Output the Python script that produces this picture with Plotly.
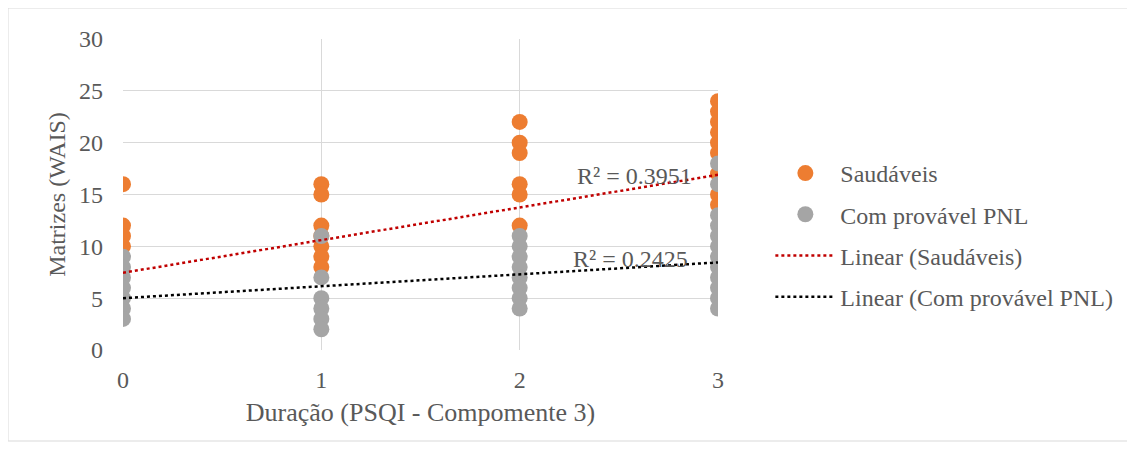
import plotly.graph_objects as go

# Data
saud_x = [0, 0, 0, 0,
          1, 1, 1, 1, 1, 1, 1,
          2, 2, 2, 2, 2, 2,
          3, 3, 3, 3, 3, 3, 3, 3, 3]
saud_y = [16, 12, 11, 10,
          16, 15, 12, 11, 10, 9, 8,
          22, 20, 19, 16, 15, 12,
          24, 23, 22, 21, 20, 19, 17, 15, 14]

pnl_x = [0, 0, 0, 0, 0, 0, 0,
         1, 1, 1, 1, 1, 1,
         2, 2, 2, 2, 2, 2, 2, 2,
         3, 3, 3, 3, 3, 3, 3, 3, 3, 3, 3, 3]
pnl_y = [9, 8, 7, 6, 5, 4, 3,
         11, 7, 5, 4, 3, 2,
         11, 10, 9, 8, 7, 6, 5, 4,
         18, 16, 13, 12, 11, 10, 9, 8, 7, 6, 5, 4]

# Trendline coefficients
trend_x = [0, 3]
saud_intercept, saud_slope = 7.45, 3.15
pnl_intercept, pnl_slope = 5.0, 1.15
saud_r2 = "R² = 0.3951"
pnl_r2 = "R² = 0.2425"

x_ticks = [0, 1, 2, 3]
y_ticks = [0, 5, 10, 15, 20, 25, 30]

FONT = "Liberation Serif"
TXT = "#595959"
FS = 24

fig = go.Figure()
fig.add_trace(go.Scatter(x=saud_x, y=saud_y, mode="markers", name="Saudáveis",
                         marker=dict(color="#ED7D31", size=16), legendgroup="a"))
fig.add_trace(go.Scatter(x=pnl_x, y=pnl_y, mode="markers", name="Com provável PNL",
                         marker=dict(color="#A5A5A5", size=16), legendgroup="b"))
fig.add_trace(go.Scatter(x=trend_x, y=[saud_intercept + saud_slope * v for v in trend_x],
                         mode="lines", name="Linear (Saudáveis)",
                         line=dict(color="#C00000", width=2.5, dash="dot"), legendgroup="c"))
fig.add_trace(go.Scatter(x=trend_x, y=[pnl_intercept + pnl_slope * v for v in trend_x],
                         mode="lines", name="Linear (Com provável PNL)",
                         line=dict(color="#000000", width=2.5, dash="dot"), legendgroup="d"))

# page body has an 8px margin: compensate
OFF = 8
W, H = 1135 - OFF, 454 - OFF
L, T = 123 - OFF, 39 - OFF
R = 1135 - 718
B = 454 - 350
pw, ph = W - L - R, H - T - B

fig.add_annotation(x=2.58, y=16.8, xref="x", yref="y", text=saud_r2, showarrow=False,
                   font=dict(family=FONT, size=FS, color=TXT), xanchor="center", yanchor="middle")
fig.add_annotation(x=2.56, y=8.75, xref="x", yref="y", text=pnl_r2, showarrow=False,
                   font=dict(family=FONT, size=FS, color=TXT), xanchor="center", yanchor="middle")

# outer chart border
fig.add_shape(type="rect", xref="paper", yref="paper",
              x0=(0 - L) / pw, x1=(1133 - OFF - L) / pw,
              y0=(H - B - (441 - OFF)) / ph, y1=(H - B) / ph,
              line=dict(color="#D9D9D9", width=1), fillcolor="rgba(0,0,0,0)", layer="below")

fig.update_layout(
    width=W, height=H,
    margin=dict(l=L, r=R, t=T, b=B, autoexpand=False),
    paper_bgcolor="white", plot_bgcolor="white",
    font=dict(family=FONT, size=FS, color=TXT),
    xaxis=dict(range=[0, 3], tickvals=x_ticks, showgrid=True, gridcolor="#D9D9D9", gridwidth=1,
               zeroline=False, showline=False, ticks="", ticklabelstandoff=13,
               tickfont=dict(family=FONT, size=FS, color=TXT),
               title=dict(text="Duração (PSQI - Compomente 3)",
                          font=dict(family=FONT, size=26, color=TXT), standoff=10)),
    yaxis=dict(range=[0, 30], tickvals=y_ticks, showgrid=True, gridcolor="#D9D9D9", gridwidth=1,
               zeroline=False, showline=False, ticks="", ticklabelstandoff=19,
               tickfont=dict(family=FONT, size=FS, color=TXT),
               title=dict(text="Matrizes (WAIS)",
                          font=dict(family=FONT, size=FS, color=TXT), standoff=6)),
    legend=dict(x=1.088, y=0.64, xanchor="left", yanchor="top",
                font=dict(family=FONT, size=FS, color=TXT),
                tracegroupgap=7, itemwidth=60, bgcolor="rgba(0,0,0,0)"),
    showlegend=True,
)

fig.write_html("out.html")
